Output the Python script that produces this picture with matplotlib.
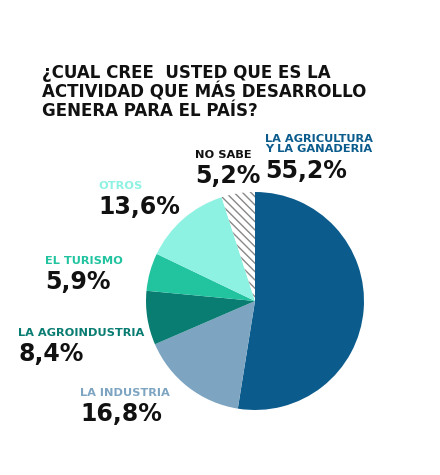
import matplotlib.pyplot as plt

categories = ['LA AGRICULTURA\nY LA GANADERIA', 'LA INDUSTRIA', 'LA AGROINDUSTRIA',
              'EL TURISMO', 'OTROS', 'NO SABE']
values = [55.2, 16.8, 8.4, 5.9, 13.6, 5.2]
value_labels = ['55,2%', '16,8%', '8,4%', '5,9%', '13,6%', '5,2%']
colors = ['#0b5c8c', '#7da5c2', '#0a7d72', '#22c4a0', '#8ef2e2', '#ffffff']
label_colors = ['#0b5c8c', '#7da5c2', '#0a7d72', '#22c4a0', '#8ef2e2', '#111111']

plt.rcParams['font.family'] = ['DejaVu Sans']
fig = plt.figure(figsize=(4.4, 4.75), dpi=100)
fig.patch.set_facecolor('white')

ax = fig.add_axes([(255 - 109) / 440, (475 - 301 - 109) / 475, 218 / 440, 218 / 475])
wedges, _ = ax.pie(values, colors=colors, startangle=90, counterclock=False,
                   wedgeprops=dict(linewidth=0))
wedges[-1].set_hatch('\\\\\\\\')
wedges[-1].set_edgecolor('#888888')
wedges[-1].set_linewidth(0)
ax.set_xlim(-1, 1)
ax.set_ylim(-1, 1)
ax.set_aspect('equal')

fig.text(42 / 440, 1 - 64 / 475,
         '¿CUAL CREE  USTED QUE ES LA\nACTIVIDAD QUE MÁS DESARROLLO\nGENERA PARA EL PAÍS?',
         fontsize=12, fontweight='bold', color='#111111', va='top', ha='left', linespacing=1.05)

positions = [(265, 134, 'left'), (80, 388, 'left'), (18, 328, 'left'),
             (45, 256, 'left'), (98, 181, 'left'), (195, 150, 'left')]
for cat, val, col, (x, y, ha) in zip(categories, value_labels, label_colors, positions):
    n = cat.count('\n') + 1
    fig.text(x / 440, 1 - y / 475, cat, fontsize=8.2, fontweight='bold', color=col,
             va='top', ha=ha, linespacing=0.95)
    fig.text(x / 440, 1 - (y + 11 * n + 3) / 475, val, fontsize=17, fontweight='bold',
             color='#111111', va='top', ha=ha)

fig.savefig('out.png', dpi=100)
